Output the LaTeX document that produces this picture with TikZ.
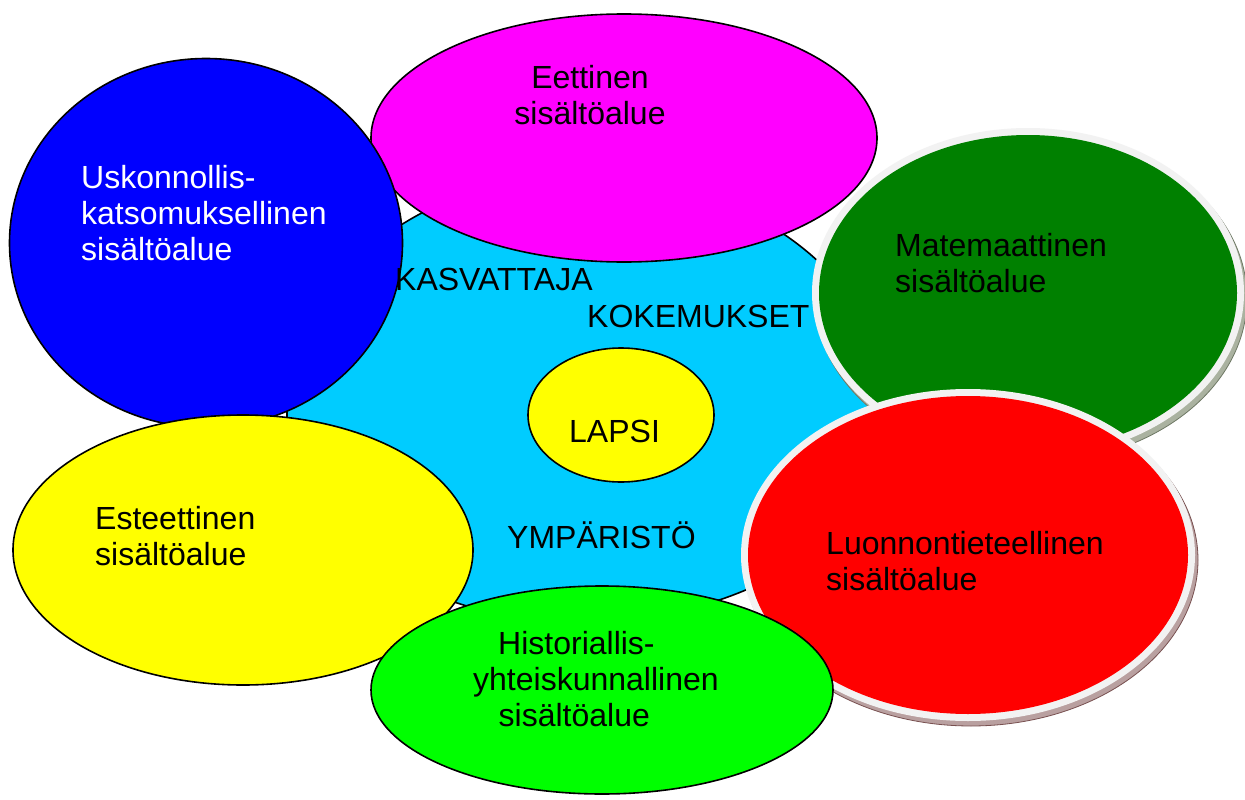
\documentclass[tikz,border=0pt]{standalone}
\usepackage{fontspec}
\setmainfont{Liberation Sans}
\usetikzlibrary{shapes.geometric}
\definecolor{cyanbg}{RGB}{0,204,255}
\definecolor{magfill}{RGB}{255,0,255}
\definecolor{bluefill}{RGB}{0,0,255}
\definecolor{yelfill}{RGB}{255,255,0}
\definecolor{limefill}{RGB}{0,255,0}
\definecolor{dgreen}{RGB}{0,128,0}
\definecolor{redfill}{RGB}{255,0,0}
\definecolor{rimcol}{RGB}{242,242,242}
\definecolor{gbevel}{RGB}{170,178,160}
\definecolor{gbevelline}{RGB}{110,120,100}
\definecolor{rbevel}{RGB}{185,160,160}
\definecolor{rbevelline}{RGB}{120,80,80}
\begin{document}
\begin{tikzpicture}[x=1pt,y=-1pt,
  outl/.style={draw=black,line width=1.6pt},
  blob/.style={ellipse,inner sep=0pt,outer sep=0pt},
  lbl/.style={inner sep=0pt,font=\fontsize{32}{36}\selectfont,text=black},
  mlbl/.style={lbl,anchor=north west,align=left},
]
\useasboundingbox (0,0) rectangle (1245,800);
\fill[white] (0,0) rectangle (1245,800);
% background area
\draw[outl,fill=cyanbg] (287,415)
  arc[start angle=180,end angle=90,x radius=293pt,y radius=240pt]
  arc[start angle=90,end angle=0,x radius=310pt,y radius=240pt]
  arc[start angle=0,end angle=-90,x radius=310pt,y radius=207pt]
  arc[start angle=-90,end angle=-180,x radius=293pt,y radius=207pt] -- cycle;
% ellipses
\node[blob,outl,fill=magfill,minimum width=506pt,minimum height=248pt] (eet) at (624,138) {};
\node[blob,outl,fill=bluefill,minimum width=393pt,minimum height=369pt] (usk) at (206,243) {};
\node[blob,outl,fill=yelfill,minimum width=460pt,minimum height=270pt] (est) at (243,550) {};
% green with rim and bevel
\node[blob,draw=gbevelline,line width=0.8pt,fill=gbevel,minimum width=432pt,minimum height=330pt] (matb) at (1031,298) {};
\node[blob,fill=rimcol,minimum width=432pt,minimum height=330pt] (matr) at (1028,293) {};
\node[blob,fill=dgreen,minimum width=418pt,minimum height=316pt] (mat) at (1028,293) {};
% red with rim and bevel
\node[blob,draw=rbevelline,line width=0.8pt,fill=rbevel,minimum width=454pt,minimum height=332pt] (luob) at (971,560) {};
\node[blob,fill=rimcol,minimum width=454pt,minimum height=332pt] (luor) at (968,555) {};
\node[blob,fill=redfill,minimum width=440pt,minimum height=318pt] (luo) at (968,555) {};
% lime
\node[blob,outl,fill=limefill,minimum width=462pt,minimum height=208pt] (his) at (602,690) {};
% centre
\node[blob,outl,fill=yelfill,minimum width=186pt,minimum height=134pt] (lapsi) at (621,415) {};
% texts
\node[lbl,anchor=north,align=center] (teet) at (590,63.3) {\strut Eettinen\\\strut sisältöalue};
\node[mlbl,text=white] (tusk) at (81,162.8) {\strut Uskonnollis-\\\strut katsomuksellinen\\\strut sisältöalue};
\node[mlbl] (tmat) at (895,230.8) {\strut Matemaattinen\\\strut sisältöalue};
\node[mlbl] (tluo) at (826,528.8) {\strut Luonnontieteellinen\\\strut sisältöalue};
\node[mlbl] (test) at (95,503.8) {\strut Esteettinen\\\strut sisältöalue};
\node[mlbl] (this) at (473,628.8) {\strut\hspace{25pt}Historiallis-\\\strut yhteiskunnallinen\\\strut\hspace{25.5pt}sisältöalue};
\node[lbl,anchor=base west] (tkas) at (395,290) {KASVATTAJA};
\node[lbl,anchor=base west] (tkok) at (587,327) {KOKEMUKSET};
\node[lbl,anchor=base west] (tlap) at (569,442) {LAPSI};
\node[lbl,anchor=base west] (tymp) at (507,548) {YMPÄRISTÖ};
\end{tikzpicture}
\end{document}
